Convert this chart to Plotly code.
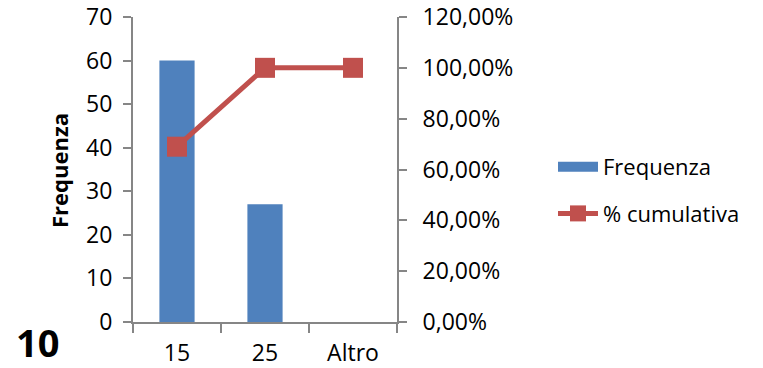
import plotly.graph_objects as go

categories = ["15", "25", "Altro"]
frequenza = [60, 27, 0]
cumulativa = [68.97, 100.0, 100.0]
left_ticks = [0, 10, 20, 30, 40, 50, 60, 70]
right_ticks = [0, 20, 40, 60, 80, 100, 120]
right_labels = ["0,00%", "20,00%", "40,00%", "60,00%", "80,00%", "100,00%", "120,00%"]

FONT = "Open Sans"
AX = "#868686"
BLUE = "#4F81BD"
RED = "#C0504D"

W, H = 763, 368
L, R, T, B = 133, 366, 17, 46
pw = W - L - R
ph = H - T - B

fig = go.Figure()
fig.add_trace(go.Bar(x=categories, y=frequenza, name="Frequenza",
                     marker=dict(color=BLUE, line=dict(width=0)),
                     width=0.4, showlegend=False))
# legend entry for the bars (wide block like the original)
fig.add_trace(go.Scatter(x=[None], y=[None], name="Frequenza", mode="lines",
                         line=dict(color=BLUE, width=16), legendgroup="a"))
fig.add_trace(go.Scatter(x=categories, y=cumulativa, name="% cumulativa", yaxis="y2",
                         mode="lines+markers",
                         line=dict(color=RED, width=5),
                         marker=dict(symbol="square", size=20, color=RED),
                         legendgroup="b"))

fig.update_layout(
    width=W, height=H,
    margin=dict(l=L, r=R, t=T, b=B),
    paper_bgcolor="white", plot_bgcolor="white",
    font=dict(family=FONT, size=23, color="black"),
    showlegend=True,
    legend=dict(x=(553 - L) / pw, y=1 - (146 - T) / ph, xanchor="left", yanchor="top",
                traceorder="grouped", tracegroupgap=15,
                font=dict(size=22), itemwidth=40, bgcolor="rgba(0,0,0,0)"),
    xaxis=dict(type="category", range=[-0.5, 2.5], showgrid=False,
               showline=True, linecolor=AX, linewidth=2,
               ticks="outside", tickson="boundaries", ticklen=9, tickcolor=AX, tickwidth=2,
               ticklabelstandoff=9, automargin=False, ticklabeloverflow="allow"),
    yaxis=dict(range=[0, 70], tickvals=left_ticks, showgrid=False, zeroline=False,
               showline=True, linecolor=AX, linewidth=2,
               ticks="outside", ticklen=8, tickcolor=AX, tickwidth=2,
               ticklabelstandoff=6, automargin=False, ticklabeloverflow="allow"),
    yaxis2=dict(range=[0, 120], tickvals=right_ticks, ticktext=right_labels,
                overlaying="y", side="right", showgrid=False, zeroline=False,
                showline=True, linecolor=AX, linewidth=2,
                ticks="outside", ticklen=8, tickcolor=AX, tickwidth=2,
                ticklabelstandoff=11, automargin=False, ticklabeloverflow="allow"),
    annotations=[
        dict(text="<b>Frequenza</b>", x=(59 - L) / pw, y=(H - B - 171) / ph,
             xref="paper", yref="paper", xanchor="center", yanchor="middle",
             textangle=-90, showarrow=False, font=dict(size=22, family=FONT)),
        dict(text="<b>10</b>", x=(37 - L) / pw, y=(H - B - 342) / ph,
             xref="paper", yref="paper", xanchor="center", yanchor="middle",
             showarrow=False, font=dict(size=38, family=FONT)),
    ],
)

fig.write_html("out.html",
               config={"displayModeBar": False},
               post_script="document.body.style.margin='0';document.body.style.overflow='hidden';")
